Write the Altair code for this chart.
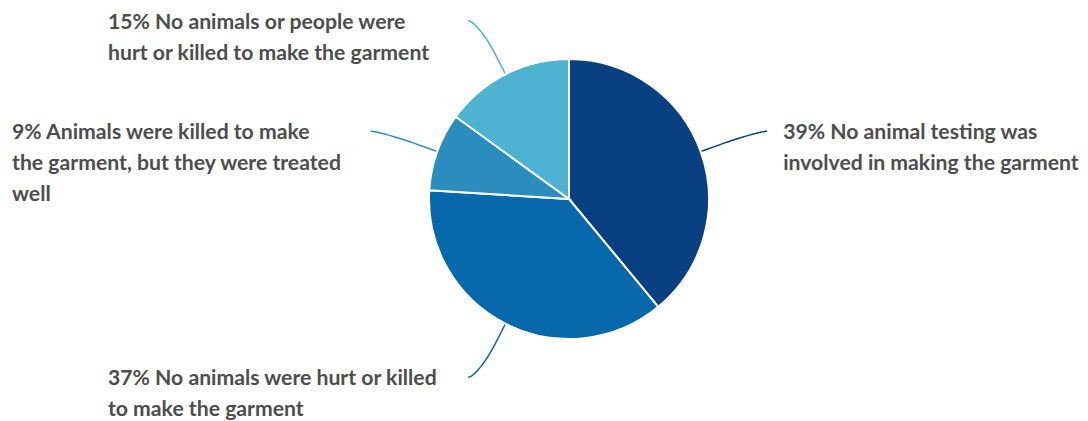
import math
import altair as alt
import pandas as pd

# ---- data ----
categories = [
    "No animal testing was involved in making the garment",
    "No animals were hurt or killed to make the garment",
    "Animals were killed to make the garment, but they were treated well",
    "No animals or people were hurt or killed to make the garment",
]
values = [39, 37, 9, 15]
label_lines = [
    "39% No animal testing was\ninvolved in making the garment",
    "37% No animals were hurt or killed\nto make the garment",
    "9% Animals were killed to make\nthe garment, but they were treated\nwell",
    "15% No animals or people were\nhurt or killed to make the garment",
]
colors = ["#084081", "#0868ac", "#2b8cbe", "#4eb3d3"]

# ---- layout ----
W, H = 1072, 413
CX, CY, R = 561, 191, 140
LABEL_DIST = 200
text_x_left = {1: 100, 2: 4, 3: 100}  # left-side label block left edges

total = sum(values)
pie_rows, line_rows, text_rows = [], [], []
cum = 0.0
for i, (cat, v) in enumerate(zip(categories, values)):
    pie_rows.append({"cat": cat, "value": v, "idx": i})
    mid = (cum + v / 2) / total * 2 * math.pi
    cum += v
    dx, dy = math.sin(mid), -math.cos(mid)
    side = 1 if dx >= 0 else -1
    T = (CX + R * dx, CY + R * dy)
    B = (CX + (R + 22) * dx, CY + (R + 22) * dy)
    L = (CX + LABEL_DIST * dx + side * 10, CY + LABEL_DIST * dy)
    P0 = L
    P1 = (L[0] - side * 5, L[1])
    P2 = (2 * B[0] - T[0], 2 * B[1] - T[1])
    P3 = B
    n = 30
    k = 0
    for j in range(n + 1):
        t = j / n
        a, b, c, d = (1 - t) ** 3, 3 * (1 - t) ** 2 * t, 3 * (1 - t) * t ** 2, t ** 3
        x = a * P0[0] + b * P1[0] + c * P2[0] + d * P3[0]
        y = a * P0[1] + b * P1[1] + c * P2[1] + d * P3[1]
        line_rows.append({"cat": cat, "x": x, "y": y, "k": k})
        k += 1
    line_rows.append({"cat": cat, "x": T[0], "y": T[1], "k": k})
    tx = L[0] + 16 if side > 0 else text_x_left[i]
    text_rows.append({"cat": cat, "label": label_lines[i], "x": tx, "y": L[1] + 8})

pie_df = pd.DataFrame(pie_rows)
line_df = pd.DataFrame(line_rows)
text_df = pd.DataFrame(text_rows)

color_scale = alt.Scale(domain=categories, range=colors)
xs = alt.Scale(domain=[0, W], range=[0, W], zero=False, nice=False)
ys = alt.Scale(domain=[0, H], range=[0, H], zero=False, nice=False)

pie = alt.Chart(pie_df).mark_arc(radius=R, stroke="white", strokeWidth=2).encode(
    theta=alt.Theta("value:Q", stack=True),
    color=alt.Color("cat:N", scale=color_scale, legend=None),
    order=alt.Order("idx:Q"),
    x=alt.value(CX),
    y=alt.value(CY),
)

connectors = alt.Chart(line_df).mark_line(strokeWidth=1.5).encode(
    x=alt.X("x:Q", scale=xs, axis=None),
    y=alt.Y("y:Q", scale=ys, axis=None),
    color=alt.Color("cat:N", scale=color_scale, legend=None),
    detail="cat:N",
    order="k:Q",
)

labels = alt.Chart(text_df).mark_text(
    align="left", baseline="alphabetic", lineBreak="\n", lineHeight=31,
    font="Lato", fontWeight="bold", fontSize=21.2, color="#4d4d4d",
).encode(
    x=alt.X("x:Q", scale=xs, axis=None),
    y=alt.Y("y:Q", scale=ys, axis=None),
    text="label:N",
)

chart = alt.layer(connectors, pie, labels).properties(
    width=W, height=H, autosize="none", padding=0, background="white"
).configure_view(stroke=None)

chart.save("out.html", embed_options={"renderer": "svg", "actions": False})
